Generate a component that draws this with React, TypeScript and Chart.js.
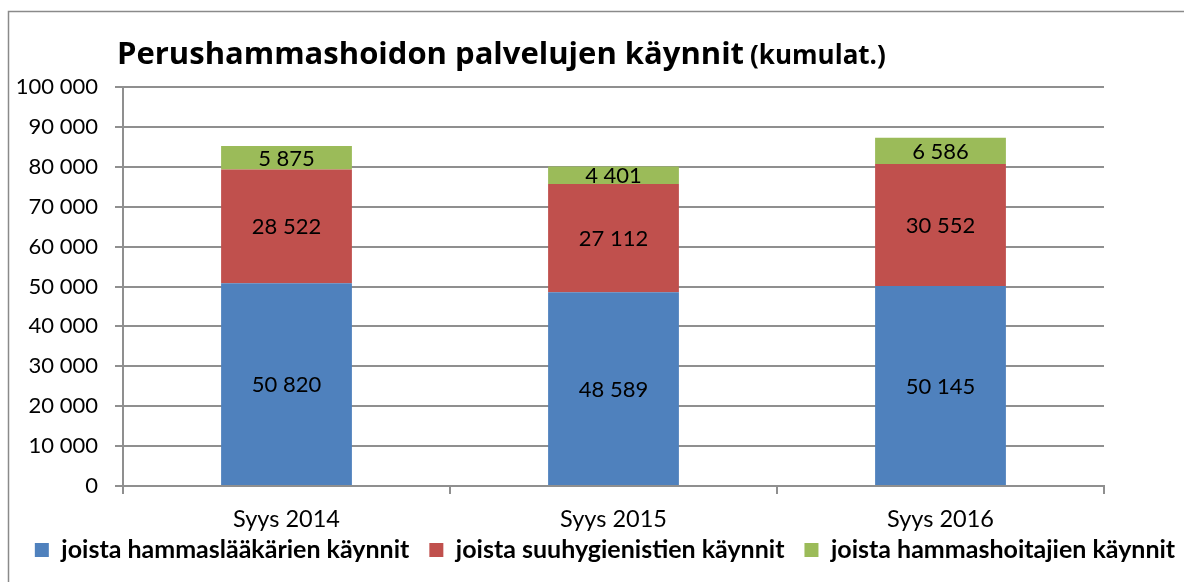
import React, { useEffect, useRef } from 'react';
import { Chart, registerables } from 'chart.js';

Chart.register(...registerables);

const categories = ['Syys 2014', 'Syys 2015', 'Syys 2016'];
const hammaslaakariValues = [50820, 48589, 50145];
const suuhygienistiValues = [28522, 27112, 30552];
const hammashoitajaValues = [5875, 4401, 6586];
const seriesNames = [
  'joista hammaslääkärien käynnit',
  'joista suuhygienistien käynnit',
  'joista hammashoitajien käynnit',
];
const seriesColors = ['#4F81BD', '#C0504D', '#9BBB59'];
const titleMain = 'Perushammashoidon palvelujen käynnit';
const titleSub = '(kumulat.)';
const yMin = 0;
const yMax = 100000;
const yStep = 10000;

const FONT = 'Lato, "Open Sans", sans-serif';
const TITLE_FONT = '"Open Sans", Lato, sans-serif';
const GRID = '#8f8f8f';

const fmt = (v: number) => String(Math.round(v)).replace(/\B(?=(\d{3})+(?!\d))/g, ' ');

const framePlugin = {
  id: 'frame',
  beforeDraw(chart: any) {
    const ctx = chart.ctx;
    ctx.save();
    ctx.fillStyle = '#ffffff';
    ctx.fillRect(0, 0, chart.width, chart.height);
    ctx.strokeStyle = '#8a8a8a';
    ctx.lineWidth = 1.5;
    ctx.beginPath();
    ctx.moveTo(8.5, chart.height);
    ctx.lineTo(8.5, 11.5);
    ctx.lineTo(chart.width, 11.5);
    ctx.stroke();
    ctx.restore();
  },
};

const legendShiftPlugin = {
  id: 'legendShift',
  afterLayout(chart: any) {
    const lg = chart.legend;
    if (!lg) return;
    const d = 517.5 - lg.top;
    lg.top += d;
    lg.bottom += d;
  },
};

const titlePlugin = {
  id: 'customTitle',
  afterDraw(chart: any) {
    const ctx = chart.ctx;
    ctx.save();
    ctx.fillStyle = '#000';
    ctx.textBaseline = 'alphabetic';
    ctx.textAlign = 'left';
    ctx.font = `bold 31px ${TITLE_FONT}`;
    const x = 117;
    const y = 64;
    ctx.fillText(titleMain, x, y);
    const w = ctx.measureText(titleMain).width;
    ctx.font = `bold 26px ${TITLE_FONT}`;
    ctx.fillText(titleSub, x + w + 6, y);
    ctx.restore();
  },
};

const labelsPlugin = {
  id: 'segmentLabels',
  afterDatasetsDraw(chart: any) {
    const ctx = chart.ctx;
    ctx.save();
    ctx.fillStyle = '#000';
    ctx.font = `22px ${FONT}`;
    ctx.textAlign = 'center';
    ctx.textBaseline = 'middle';
    chart.data.datasets.forEach((ds: any, di: number) => {
      const meta = chart.getDatasetMeta(di);
      meta.data.forEach((bar: any, i: number) => {
        const v = ds.data[i];
        const cy = (bar.y + bar.base) / 2;
        ctx.fillText(fmt(v), bar.x, cy + 1);
      });
    });
    ctx.restore();
  },
};

export default function App() {
  const ref = useRef<HTMLCanvasElement | null>(null);

  useEffect(() => {
    if (!ref.current) return;
    const chart = new Chart(ref.current, {
      type: 'bar',
      data: {
        labels: categories,
        datasets: [hammaslaakariValues, suuhygienistiValues, hammashoitajaValues].map((d, i) => ({
          label: seriesNames[i],
          data: d,
          backgroundColor: seriesColors[i],
          borderWidth: 0,
          barPercentage: 0.4,
          categoryPercentage: 1,
        })),
      },
      options: {
        responsive: false,
        animation: false,
        devicePixelRatio: 1,
        layout: { padding: { left: 8, right: -18, top: 87, bottom: 0 } },
        plugins: {
          title: { display: false },
          tooltip: { enabled: false },
          legend: {
            display: true,
            position: 'bottom',
            labels: {
              boxWidth: 14,
              boxHeight: 14,
              padding: 20,
              color: '#000',
              font: { family: FONT, size: 25, weight: 'bold' },
            },
          },
        },
        scales: {
          x: {
            stacked: true,
            offset: true,
            grid: {
              display: true,
              offset: true,
              drawOnChartArea: false,
              drawTicks: true,
              tickLength: 8,
              color: GRID,
              lineWidth: 2,
            },
            border: { display: true, color: GRID, width: 2 },
            ticks: { color: '#000', padding: 11, font: { family: FONT, size: 23.5 } },
            afterFit: (s: any) => {
              s.height = 50;
            },
          },
          y: {
            stacked: true,
            min: yMin,
            max: yMax,
            grid: { color: GRID, tickLength: 8, lineWidth: 2 },
            border: { display: true, color: GRID, width: 2 },
            ticks: {
              stepSize: yStep,
              color: '#000',
              padding: 17,
              font: { family: FONT, size: 22 },
              callback: (v: any) => fmt(Number(v)),
            },
            afterFit: (s: any) => {
              s.width = 115;
            },
          },
          y2: {
            type: 'linear',
            axis: 'y',
            position: 'right',
            display: true,
            grid: { drawOnChartArea: false, drawTicks: false },
            border: { display: false },
            ticks: { display: false },
            afterFit: (s: any) => {
              s.width = 98;
            },
          },
        },
      },
      plugins: [framePlugin, legendShiftPlugin, titlePlugin, labelsPlugin],
    } as any);
    return () => chart.destroy();
  }, []);

  return (
    <div style={{ position: 'absolute', left: 0, top: 0, width: 1184, height: 582, overflow: 'hidden', background: '#fff' }}>
      <canvas ref={ref} width={1184} height={591} style={{ display: 'block' }} />
    </div>
  );
}
